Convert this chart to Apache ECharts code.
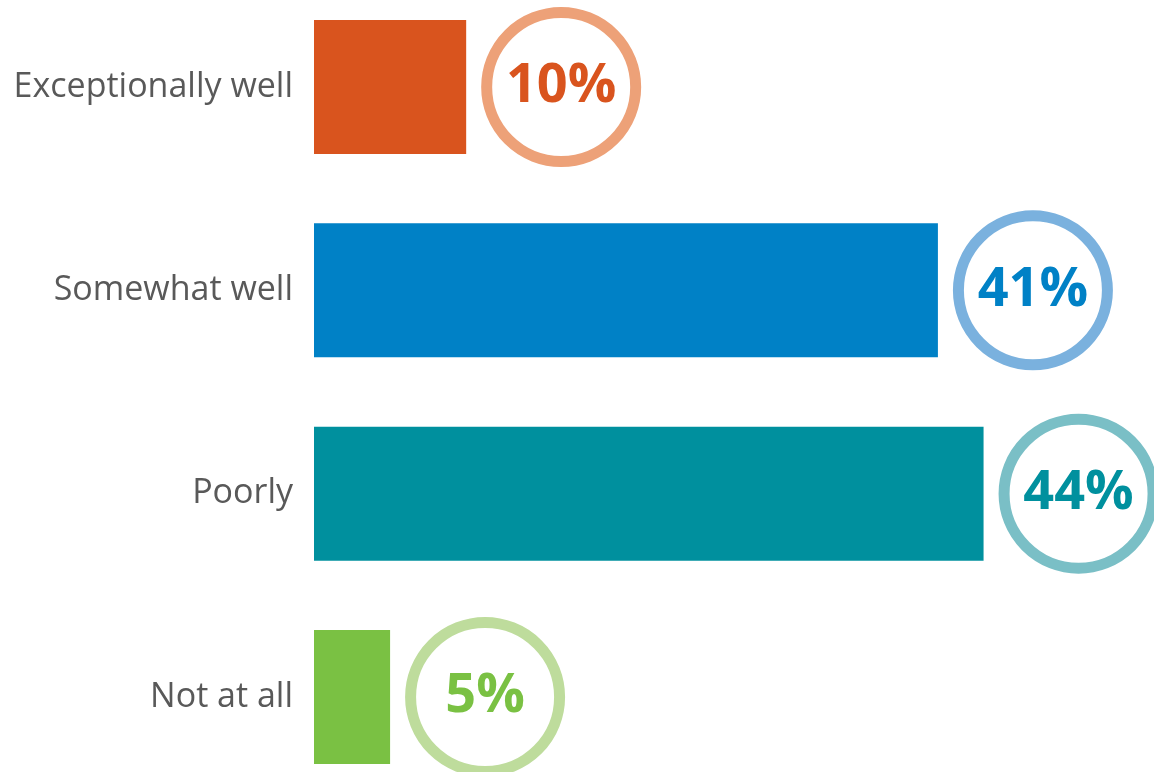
<!DOCTYPE html>
<html>
<head>
<meta charset="utf-8">
<script src="https://cdn.jsdelivr.net/npm/echarts@6/dist/echarts.min.js"></script>
<style>
  html, body { margin: 0; padding: 0; background: #ffffff; }
  #chart { width: 1154px; height: 772px; }
</style>
</head>
<body>
<div id="chart"></div>
<script>
// Survey answers, top to bottom
const categories = ['Exceptionally well', 'Somewhat well', 'Poorly', 'Not at all'];
const shares = [10, 41, 44, 5];
const barColors = ['#D9541E', '#0081C6', '#00909E', '#7AC143'];
const ringColors = ['#EDA178', '#7AB1DE', '#7ABFC6', '#BEDC9C'];

const chart = echarts.init(document.getElementById('chart'));

// horizontal distance from a bar's end to the centre of its value ring
const ringOffset = 95;

chart.setOption({
  animation: false,
  grid: { left: 314, top: 87, width: 840, height: 610, containLabel: false },
  xAxis: {
    type: 'value', min: 0, max: 55.2, show: false
  },
  yAxis: {
    type: 'category',
    data: categories,
    inverse: true,
    boundaryGap: false,
    axisLine: { show: false },
    axisTick: { show: false },
    splitLine: { show: false },
    axisLabel: {
      margin: 21,
      color: '#595959',
      fontFamily: 'Open Sans',
      fontSize: 34
    }
  },
  series: [
    {
      type: 'bar',
      barWidth: 134,
      data: shares.map((v, i) => ({ value: v, itemStyle: { color: barColors[i] } })),
      silent: true
    },
    {
      type: 'scatter',
      symbol: 'circle',
      symbolSize: 149,
      symbolOffset: [ringOffset, 0],
      z: 3,
      data: shares.map((v, i) => ({
        value: [v, categories[i]],
        itemStyle: { color: '#ffffff', borderColor: ringColors[i], borderWidth: 11, opacity: 1 },
        label: { color: barColors[i] }
      })),
      label: {
        show: true,
        position: 'inside',
        fontFamily: 'Open Sans',
        fontWeight: 'bold',
        fontSize: 54,
        formatter: p => p.value[0] + '%'
      },
      silent: true
    }
  ]
});
</script>
</body>
</html>
